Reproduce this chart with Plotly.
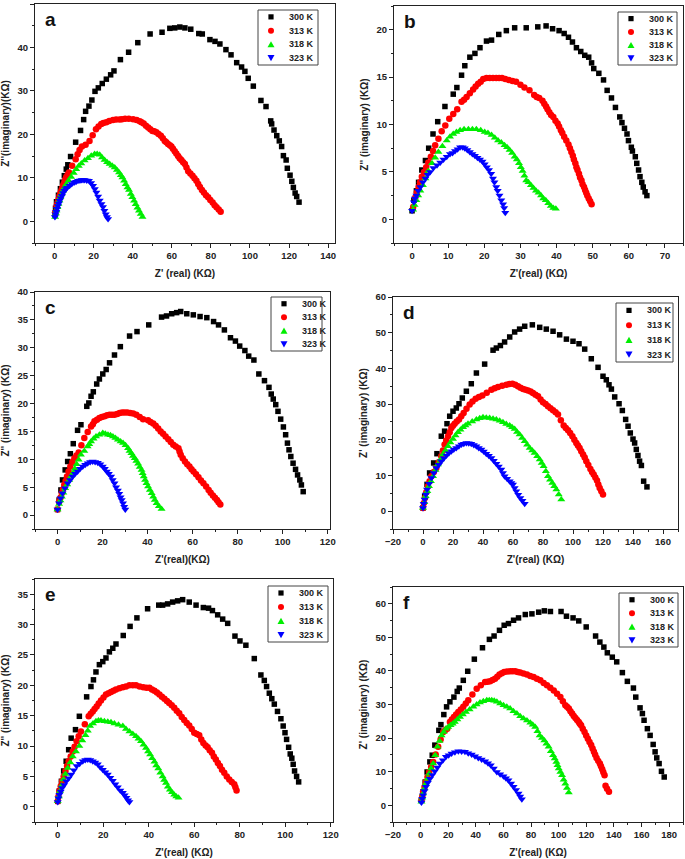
import plotly.graph_objects as go

W, H = 685, 859

# ---------------- data (Z' real, Z'' imaginary) in kOhm ----------------
TEMPS = ["300 K", "313 K", "318 K", "323 K"]

A_300 = [(0.2,1.5),(0.5,3),(1,4.5),(2,6),(3,7.5),(4,9),(5,10.5),(6,12),(6.8,13),(8.2,14.9),(10.8,18.2),
         (13.3,20.9),(14.9,23.4),(15.9,25.3),(17.6,26.5),(19.1,27.9),(20.7,29.9),(22.4,30.7),(24.4,31.7),
         (26.5,32.7),(28.7,33.7),(30.4,34.6),(33.7,37.2),(37.9,38.9),(42.6,41.1),(48.9,43.1),(55,43.5),
         (59,44.4),(61.5,44.5),(64.1,44.7),(66.7,44.5),(69.7,44.2),(73.8,43.2),(75.6,43.1),(79.5,41.8),
         (82.1,41.4),(84.6,40.8),(87.7,39.5),(90.3,38.3),(93.2,36.5),(95.7,35.5),(97.4,34.5),(99.1,32.9),
         (101.7,31.1),(105.6,27.8),(108.2,26.4),(110.6,23.1),(111.1,22.4),(112.3,21),(113.7,19.7),(115,18.5),
         (116.2,17.2),(117.1,15.1),(118.5,14.1),(119.1,12.2),(120.5,10.6),(121.4,9.2),(122.2,7.8),
         (123.1,6.5),(123.9,5.7),(125.1,4.4)]
A_313 = [(0.3,2),(1,3.5),(2,5),(3,6.5),(4,7.8),(5,9),(6,10.2),(7.4,11.2),(10.8,14.3),(12.8,16.4),(15.9,17.6),
         (17.9,18.5),(21.2,21.2),(23.9,22.4),(26.5,22.8),(29.9,23.3),(33.3,23.4),(36.1,23.6),(40.2,23.5),
         (43.6,23),(45.6,22.5),(47.9,21.6),(50.1,20.8),(52.1,20.5),(54.4,19.7),(56.4,18.5),(58.1,17.8),
         (59.8,17.2),(61.5,16.1),(63.2,15),(64.9,14.1),(66.7,13.2),(68.4,11.5),(70.6,10.5),(72.6,9.3),
         (74.4,7.9),(76.4,6.6),(78.6,5.5),(80.9,4.3),(82.9,3.2),(85,2.2),
         (1.5,4.2),(2.5,5.8),(3.5,7.1),(4.5,8.4),(5.5,9.6),(6.7,10.7),(9,12.8),(11.8,15.4),(14,17.2),
         (19.5,19.8),(22.5,21.8),(25,22.6),(28,23.1),(31.5,23.4),(34.5,23.5),(38,23.6),(42,23.3),
         (44.5,22.8),(46.8,22),(49,21.2),(51,20.7),(53.2,20.1),(55.4,19.1),(57.2,18.2),(59,17.5),(60.6,16.7),
         (62.3,15.6),(64,14.5),(65.8,13.6),(67.5,12.4),(69.5,11),(71.6,9.9),(73.5,8.6),(75.4,7.2),(77.5,6),
         (79.7,4.9),(81.9,3.7),(84,2.7)]
A_318 = [(0.3,1),(0.7,1.8),(1,2.5),(1.5,3.2),(2,4),(2.5,4.8),(3,5.5),(3.6,6.2),(4.3,7),(5.1,7.8),(6,8.5),
         (7.2,9.4),(8.5,10.2),(9.8,11.1),(11.1,12),(12.4,12.7),(13.7,13.3),(15.4,14),(17.1,14.5),(18.8,15.1),
         (20.5,15.5),(21.8,15.5),(23.1,15.3),(24.3,14.7),(25.6,14.1),(26.9,13.6),(28.2,13.2),(29.5,12.8),
         (30.8,12.4),(31.9,11.8),(33,11.2),(33.9,10.6),(34.7,10.1),(35.6,9.3),(36.4,8.5),(37.3,7.8),
         (38.1,7.2),(39,6.3),(39.8,5.5),(40.7,4.7),(41.5,3.9),(42.4,3.1),(43.2,2.4),(44.1,1.7),(45,1)]
A_323 = [(0.2,1),(0.5,1.6),(0.9,2.2),(1.3,2.9),(1.7,3.5),(2.2,4.1),(2.6,4.7),(3.2,5.3),(3.8,5.9),(4.4,6.5),
         (5.1,7),(5.8,7.4),(6.4,7.7),(7.7,8.2),(8.8,8.6),(10,8.9),(11,9.1),(12,9.3),(13,9.4),(13.8,9.5),
         (14.6,9.5),(15.4,9.5),(16.5,9.4),(17.6,9.3),(18.7,8.8),(19.7,8.2),(20.6,7.4),(21.4,6.6),(22.3,5.7),
         (23.1,4.8),(24,4),(24.8,3.3),(25.5,2.4),(26.2,1.6),(26.8,1),(27.4,0.5)]

B_300 = [(0,0.9),(0.5,2),(1.2,3),(1.8,3.9),(2.7,5.2),(3.7,6.2),(4.6,7.5),(5.8,9),(7.1,10.3),(9.1,11.9),
         (11.4,13.2),(12.4,13.9),(13.7,15.2),(14.6,16.2),(16,17.1),(17.4,17.5),(18.8,18.1),(20.6,18.8),
         (22,18.9),(24,19.5),(26.1,19.9),(28.4,20.2),(31.6,20.2),(34.8,20.3),(37.1,20.4),(38.9,20.1),
         (40.7,19.9),(42.1,19.6),(43.3,19.2),(44.4,18.7),(45.5,18.1),(46.7,17.7),(47.8,17.3),(48.9,17.1),
         (49.7,16.5),(50.3,15.9),(51.7,15.4),(53,14.7),(54,13.6),(55.2,12.8),(56.3,11.8),(57.5,10.8),
         (58.1,10.2),(58.8,9.6),(59.5,9),(59.9,8.3),(60.7,7.6),(61,7.2),(61.8,6.6),(62.2,5.9),(62.7,5.2),
         (63.1,4.5),(63.6,3.9),(64,3.4),(64.5,2.9),(65,2.5)]
B_313 = [(0.3,1.3),(0.9,2.3),(1.8,3.4),(2.7,4.5),(3.9,5.5),(5.2,6.6),(6.4,7.8),(8.2,9.3),(10.3,10.6),
         (12.5,11.6),(13.7,12.4),(15.1,12.9),(16.9,13.7),(18.3,14.3),(19.7,14.8),(21.5,14.9),(23.3,14.9),
         (24.9,14.9),(26.8,14.7),(28.8,14.5),(31.1,13.9),(32.5,13.6),(33.8,13.1),(35.2,12.8),(36.1,12.5),
         (37.1,11.9),(38,11.3),(39.1,10.8),(40.3,10.1),(41.2,9.4),(42.1,8.7),(43.3,7.9),(44.1,7.1),
         (44.8,6.3),(45.5,5.5),(46.2,4.8),(46.9,4.1),(47.6,3.4),(48.2,2.8),(48.9,2.2),(49.7,1.6),
         (1.3,2.8),(2.2,3.9),(3.3,5),(4.5,6),(5.8,7.2),(7.3,8.5),(9.2,9.9),(11.4,11.1),(14.4,12.6),(16,13.3),
         (17.6,14),(19,14.5),(20.6,14.9),(22.4,14.9),(24.1,14.9),(25.8,14.8),(27.8,14.6),(30,14.2),(34.5,12.9),
         (36.6,12.2),(37.5,11.6),(38.5,11),(39.7,10.4),(40.7,9.8),(41.6,9.1),(42.7,8.3),(43.7,7.5),
         (44.5,6.7),(45.2,5.9),(45.8,5.2),(46.5,4.4),(47.2,3.7),(47.9,3.1),(48.5,2.5),(49.3,1.9)]
B_318 = [(0.3,1),(1.2,2),(2.3,3),(3.7,4.3),(5.5,5.9),(7.3,7.1),(9.6,8.3),(11.4,9),(13.3,9.4),(15.6,9.5),
         (17.8,9.5),(20.1,9.2),(22,8.9),(23.8,8.3),(25.6,7.8),(27,7.3),(28.4,6.6),(29.6,5.9),(30.6,5.1),
         (31.6,4.1),(32.9,3.6),(34.3,3),(35.7,2.5),(37,2),(38.4,1.4),(39.8,1.1),
         (0.7,1.5),(1.7,2.5),(3,3.6),(4.5,5.1),(6.4,6.5),(8.4,7.7),(10.5,8.7),(12.3,9.2),(14.4,9.5),(16.7,9.5),
         (19,9.4),(21,9.1),(22.9,8.6),(24.7,8.1),(26.3,7.6),(27.7,7),(29,6.3),(30.1,5.5),(31.1,4.6),(32.2,3.9),
         (33.6,3.3),(35,2.8),(36.3,2.2),(37.7,1.7),(39.1,1.2)]
B_323 = [(0,0.9),(0.5,1.8),(1.2,2.5),(2.3,3.4),(3.7,4.3),(5,5),(6.9,5.7),(8.7,6.3),(10.5,6.9),(11.9,7.2),
         (13.3,7.6),(14.6,7.5),(16,7.1),(17.4,6.7),(18.8,6.3),(20.1,5.8),(21.3,5.2),(22.4,4.3),(23.3,3.4),
         (24.2,2.5),(25.2,1.6),(25.8,0.7),
         (0.8,2.2),(1.7,3),(3,3.9),(4.3,4.7),(5.9,5.4),(7.8,6),(9.6,6.6),(11.2,7),(12.6,7.4),(14,7.6),
         (15.3,7.3),(16.7,6.9),(18.1,6.5),(19.5,6.1),(20.7,5.5),(21.9,4.8),(22.8,3.9),(23.7,3),(24.7,2),(25.5,1.2)]

C_300 = [(0,1),(0.7,2.7),(1.5,4.5),(2.2,6.3),(3.4,8.1),(4.5,9.6),(5.7,11),(7,12.8),(8.9,15.2),(10.4,16.2),
         (13,19.5),(13.9,20.1),(14.9,21.3),(15.9,22.1),(17.4,23.5),(18.6,24.4),(20.1,25.3),(21.6,26.1),
         (23.1,27.3),(25.3,28.7),(27.9,30.2),(32,32.1),(35.3,32.9),(40.5,34.1),(46.2,35.5),(48.4,35.7),
         (50.7,36.1),(52.9,36.3),(54.7,36.5),(57.4,36.1),(60.3,35.9),(63.3,35.6),(66.3,35.4),(69.3,34.7),
         (71.5,34.1),(74.1,33.2),(76.8,31.8),(79,31.2),(80.9,30.3),(83.2,29.5),(84.9,28.5),(87.2,27.8),
         (89.4,25.3),(91.9,24.1),(93.9,22.9),(94.9,21.7),(95.8,20.8),(96.9,19.8),(97.9,18.6),(99.1,17.2),
         (100.3,15.8),(101.3,14.4),(102.1,12.9),(102.8,11.7),(103.6,10.5),(104.6,9.3),(105.7,8.2),
         (106.6,7.2),(107.6,6.3),(108.3,5.4),(109.1,4.2)]
C_313 = [(0,1),(0.7,2.4),(1.9,3.9),(3,5.4),(4.2,6.9),(5.7,8.7),(7.5,10.2),(9.4,11.2),(11.9,13.8),(14.9,15.9),
         (16.4,16.8),(18.6,17.4),(20.9,17.7),(23.1,18),(25.3,18),(27.6,18.3),(29.8,18.4),(32.3,18.3),
         (35,18),(38,17.2),(40.2,17),(42.5,16.4),(44.7,15.5),(46.9,14.6),(49.2,13.6),(51.4,12.6),(53.7,12),
         (54.7,10.8),(56.6,9.6),(58.6,8.7),(60.4,7.8),(62.6,6.8),(64.8,5.7),(67.1,4.5),(69,3.5),(70.8,2.7),
         (72.3,1.9),
         (1.3,3.1),(2.4,4.6),(3.6,6.1),(4.9,7.8),(6.6,9.5),(8.4,10.7),(10.6,12.5),(13.4,14.9),(15.7,16.3),
         (17.5,17.1),(19.7,17.6),(22,17.9),(24.2,18),(26.5,18.1),(28.7,18.4),(31,18.4),(33.6,18.2),(36.5,17.6),
         (41.3,16.7),(43.6,16),(45.8,15),(48,14.1),(50.3,13.1),(52.5,12.3),(54.2,11.4),(55.6,10.2),(57.6,9.1),
         (59.5,8.2),(61.5,7.3),(63.7,6.2),(66,5.1),(68,4),(69.9,3.1),(71.5,2.3)]
C_318 = [(0,1),(0.7,2),(1.9,3.3),(3.4,4.8),(5.2,6.3),(7,7.6),(8.5,9.1),(10.4,10.8),(13.4,12.3),(14.9,13.2),
         (17.1,14.1),(20.1,14.7),(22.4,14.4),(24.6,14.1),(26.8,13.5),(29.1,12.9),(31.3,12),(32.8,11.1),
         (34.3,10.2),(35.8,9.2),(37.3,8.1),(38.3,6.9),(39.5,5.7),(41,4.5),(42.5,3.3),(44,2.1),(46.2,1.1),
         (1.3,2.6),(2.6,4),(4.3,5.5),(6.1,7),(7.7,8.3),(9.4,9.9),(11.9,11.5),(14.1,12.7),(16,13.7),(18.6,14.4),
         (21.2,14.6),(23.5,14.3),(25.7,13.8),(28,13.2),(30.2,12.5),(32,11.5),(33.5,10.6),(35,9.7),(36.5,8.6),
         (37.8,7.5),(38.9,6.3),(40.2,5.1),(41.8,3.9),(43.2,2.7),(45,1.6)]
C_323 = [(0,1),(0.7,2.1),(2.2,3.9),(4.5,5.7),(6.7,6.9),(8.9,7.8),(11.2,8.7),(13.4,9.3),(15.6,9.6),
         (17.9,9.4),(20.1,8.7),(21.9,7.8),(23.8,6.9),(25.3,5.7),(26.8,4.4),(28,3.2),(29.1,2.1),(30.1,1),
         (1.4,3),(3.3,4.8),(5.6,6.3),(7.8,7.4),(10,8.3),(12.3,9),(14.5,9.5),(16.7,9.5),(19,9.1),(21,8.3),
         (22.8,7.4),(24.5,6.3),(26,5),(27.4,3.8),(28.5,2.7),(29.6,1.5)]

D_300 = [(0,0.9),(1.1,4.2),(2.7,7.5),(4.4,10.7),(7.1,13.5),(9.3,16.1),(12.2,21),(14.4,22.4),(16,24.5),
         (17.8,26.6),(20,28),(22.2,28.9),(24,30.1),(26.2,31.7),(28.9,33.6),(32.2,35.7),(35.6,38.7),
         (41.1,41.2),(46.7,45.1),(48.9,45.7),(51.6,46.4),(54.4,47.4),(57.8,48.8),(61.1,50.2),(64.4,51),
         (67.8,51.8),(72.9,52.2),(77.8,51.5),(82.2,51),(86.7,50.4),(91.1,49.4),(95.6,48.2),(100,47.6),
         (104,46.9),(107.8,45.4),(112.2,42.7),(116.7,40.3),(120,37.8),(122.2,36.8),(124,35.4),(125.6,34.2),
         (127.8,32),(130.7,30.1),(132.9,28.2),(135.1,25.7),(136.7,23.8),(138.2,21.9),(140,20.2),(141.1,19.1),
         (142.2,17.3),(143.3,15.6),(144.4,14),(145.6,12.8),(147.1,8.4),(149.3,6.8)]
D_313 = [(0,0.9),(1.3,3.7),(3.3,7),(5.6,9.8),(8.9,12.1),(12.2,15.4),(14.4,18.7),(16.7,21),(18.9,23.3),
         (21.1,24.5),(24,25.7),(27.1,27.5),(31.1,29.9),(35.1,31.5),(39.6,32.4),(45.6,34),(50,34.8),
         (55.6,35.4),(59.6,35.7),(63.3,35),(66.7,34.2),(70,33.8),(73.3,33.1),(76.7,32.2),(80,30.5),
         (83.3,29.4),(86.7,28.3),(90,27.1),(93.8,24),(96.7,22.7),(99.6,21),(102.2,19.1),(104.4,17.7),
         (106.7,15.9),(108.9,14),(111.6,11.8),(113.8,10.3),(116,8.6),(117.8,6.5),(120,4.7),
         (0.6,2.3),(2.2,5.3),(4.4,8.4),(7.2,11),(10.5,13.7),(13.3,17),(15.5,19.8),(17.8,22.1),(20,23.9),
         (22.5,25.1),(25.5,26.6),(29,28.7),(33,30.7),(37.3,32),(42.5,33.2),(47.8,34.4),(52.8,35.1),(57.6,35.6),
         (61.5,35.4),(65,34.6),(68.4,34),(71.7,33.5),(75,32.6),(78.4,31.3),(81.7,30),(85,28.8),(88.4,27.7),
         (91.9,25.5),(95.2,23.3),(98.1,21.9),(100.9,20),(103.3,18.4),(105.5,16.8),(107.8,15),(110.2,12.9),
         (112.7,11),(114.9,9.4),(116.9,7.5),(118.9,5.6)]
D_318 = [(0,0.9),(1.8,4.2),(4,7),(6.7,9.8),(10,13.1),(13.3,15.9),(16.7,18.2),(20,20.2),(23.3,22.1),
         (26.7,23.5),(30,24.5),(35.6,25.7),(40,26.3),(44.4,26.1),(48.9,25.7),(53.3,24.9),(57.8,24),
         (61.1,23),(64.4,21.5),(67.8,19.6),(71.1,17.7),(74.4,16.3),(77.8,14.5),(80.4,12.6),(83.3,9.8),
         (86.2,7.9),(88.9,6.1),(92.2,3.3),
         (0.9,2.5),(2.9,5.6),(5.3,8.4),(8.3,11.5),(11.7,14.5),(15,17),(18.3,19.2),(21.7,21.2),(25,22.8),
         (28.3,24),(32.8,25.1),(37.8,26),(42.2,26.2),(46.7,25.9),(51.1,25.3),(55.5,24.4),(59.4,23.5),
         (62.7,22.2),(66.1,20.5),(69.4,18.6),(72.8,17),(76.1,15.4),(79.1,13.5),(81.9,11.2),(84.7,8.8),
         (87.5,7),(90.5,4.7)]
D_323 = [(0,0.9),(1.1,3.3),(2.7,6.1),(5.6,9.3),(8.9,12.1),(12.2,14),(15.6,15.6),(18.9,16.8),(22.2,17.7),
         (25.6,18.7),(28.9,19.1),(32.2,18.9),(35.6,18.2),(38.9,17.3),(42.2,16.1),(45.6,14.9),(48.9,13.3),
         (52.2,11.7),(54.4,9.8),(57.8,8.4),(60,7.5),(62.2,5.6),(64.9,3.7),(67.8,2.1),
         (0.5,2.1),(1.9,4.7),(4.1,7.7),(7.2,10.7),(10.5,13),(13.9,14.8),(17.2,16.2),(20.5,17.3),(23.9,18.2),
         (27.2,18.9),(30.5,19),(33.9,18.5),(37.2,17.7),(40.5,16.7),(43.9,15.5),(47.2,14.1),(50.5,12.5),
         (53.3,10.7),(56.1,9.1),(58.9,7.9),(61.1,6.5),(63.5,4.6),(66.3,2.9)]

E_300 = [(0,0.9),(0.7,2.6),(1.6,4.2),(2.6,5.9),(3.7,7.5),(4.8,9.4),(5.9,11.3),(7.8,12.7),(9.5,14.9),
         (12.7,18.1),(14.6,19.8),(15.7,20.9),(16.8,22.2),(18.3,23.4),(19.8,23.9),(21.2,24.5),(22.7,25.5),
         (24.2,26.1),(25.6,26.8),(28.8,28.2),(31.8,29.7),(34.8,31.1),(39.5,32.6),(44.4,33.2),(46.1,33.2),
         (48.3,33.4),(50.5,33.7),(52.7,33.9),(54.9,34.1),(57.8,33.7),(60.8,33.2),(64,32.8),(66.3,32.7),
         (68,32.3),(70.3,31.6),(72.5,30.9),(74.7,30.2),(77.9,28.1),(80.1,27.3),(82.7,26.6),(86.4,24.4),
         (89.3,21.7),(90.8,20.8),(91.8,19.8),(93,18.7),(94.1,17.8),(95.2,16.9),(96.6,15.7),(98.1,14.5),
         (99.1,13.3),(99.9,12.2),(100.6,11.1),(101.5,9.8),(102.2,8.7),(102.9,8),(103.5,7),(104.1,5.9),
         (105,5),(105.9,4.1)]
E_313 = [(0,0.9),(0.7,2.6),(1.9,4.2),(3.4,5.9),(4.8,7.5),(6.6,9.1),(8.3,10.8),(10.2,12.4),(13.6,14.9),
         (15.4,15.7),(17.1,16.5),(19,17.5),(21.2,18.5),(23.4,18.9),(25.6,19.3),(28.6,19.7),(31.5,20),
         (34.4,20),(37.6,19.7),(40.3,19.6),(42.5,19.1),(44.7,18.5),(46.9,17.8),(49,17.1),(51.2,16.3),
         (53.4,15.4),(55.6,14.3),(57.8,13.4),(60,12.2),(62.2,11.8),(64,10.5),(65.9,9.8),(67.8,8.9),
         (69.5,7.8),(71.3,6.7),(73.2,5.6),(75.4,4.5),(77.6,3.7),(78.6,2.7),
         (0.3,1.7),(1.3,3.4),(2.6,5),(4.1,6.7),(5.7,8.3),(7.4,9.9),(9.2,11.6),(11.9,13.6),(14.5,15.3),
         (16.2,16.1),(18,17),(20.1,18),(22.3,18.7),(24.5,19.1),(27.1,19.5),(30,19.8),(33,20),(36,19.8),
         (39,19.6),(41.4,19.3),(43.6,18.8),(45.8,18.1),(48,17.4),(50.1,16.7),(52.3,15.8),(54.5,14.8),
         (56.7,13.8),(58.9,12.8),(61.1,12),(63.1,11.1),(65,10.1),(66.8,9.3),(68.6,8.3),(70.4,7.2),(72.2,6.1),
         (74.3,5),(76.5,4.1),(78.1,3.2)]
E_318 = [(0,0.9),(1,2.6),(2.5,4.5),(4.4,6.4),(6.6,8.3),(9.5,10),(12.2,11.8),(14.2,13.3),(16.8,14.1),
         (19,14.2),(22,14),(24.9,13.7),(28.6,13.3),(31.5,12.4),(34.4,11.6),(36.6,10.8),(38.8,9.7),
         (40.6,8.6),(42.5,7.4),(44.2,6.3),(46.1,5),(47.6,3.9),(49.3,2.8),(51.2,2),(53.1,1.5),
         (0.5,1.7),(1.7,3.5),(3.4,5.4),(5.5,7.3),(8,9.1),(10.8,10.9),(13.2,12.5),(15.5,13.7),(17.9,14.2),
         (20.5,14.1),(23.4,13.9),(26.7,13.5),(30,12.8),(33,12),(35.5,11.2),(37.7,10.2),(39.7,9.1),(41.5,8),
         (43.3,6.8),(45.1,5.6),(46.8,4.4),(48.4,3.3),(50.2,2.4),(52.1,1.7)]
E_323 = [(0,0.8),(0.7,2),(1.9,3.1),(3.7,4.2),(5.9,5.3),(8.3,6.7),(11,7.5),(13.2,7.8),(15.4,7.5),(17.6,7),
         (19.8,6.1),(22,5.3),(24.2,4.3),(26.4,3.2),(28.6,2.3),(30.2,1.5),(31.5,0.8),
         (0.3,1.4),(1.3,2.5),(2.8,3.6),(4.8,4.7),(7.1,6),(9.6,7.1),(12.1,7.7),(14.3,7.7),(16.5,7.3),(18.7,6.5),
         (20.9,5.7),(23.1,4.8),(25.3,3.7),(27.5,2.7),(29.4,1.9),(30.9,1.1)]

F_300 = [(0.6,1.5),(1.8,4),(3.3,6.9),(4.7,9.9),(6.7,12.9),(8.4,14.9),(10.3,17.9),(13.2,22.3),(14.7,24),
         (16.8,27),(18.8,29.3),(21.2,30.8),(24.1,32.2),(26.5,33.9),(28,34.9),(30.9,37.2),(34.1,39.9),
         (38.9,43.5),(44.8,46.9),(49.8,49.4),(53.2,50.4),(57.1,52.1),(60.5,53.6),(63.6,54.1),(67.3,55.1),
         (70.9,55.8),(75.8,56.8),(80.6,57),(85.5,57.5),(89.6,57.9),(94,57.7),(101.7,57.7),(105.6,56.3),
         (110.4,55.8),(114.5,54.9),(119.9,53.1),(126.7,50.4),(129.8,48.6),(132.7,47.1),(135.2,45.4),
         (138.8,44.1),(142,42.7),(146.1,39.5),(149.7,36.9),(154.1,34.9),(155.8,32.2),(158.9,29),(160.6,27.3),
         (161.8,25.3),(164.2,22.8),(166.2,20.8),(168.4,18.1),(169.8,15.9),(171,14.1),(172.7,12.4),
         (174.4,10.1),(176.4,8.4)]
F_313 = [(0.6,1.5),(1.8,4),(3.8,6.9),(6.2,9.9),(9.1,12.9),(12.7,17.4),(16.4,21.8),(19.3,22.8),(21.2,24.8),
         (24.1,26.3),(27.3,27.8),(30.9,29.3),(34.5,31.3),(40.6,34.7),(46.7,36.7),(50.3,36.9),(53.9,37.7),
         (57.1,38.9),(60.5,39.7),(64.8,39.9),(68.5,39.9),(72.1,39.5),(77,38.9),(81.8,38.2),(86.7,37.2),
         (91.5,35.7),(96.4,34.2),(101.2,32.2),(104.8,29.8),(107.3,28.8),(109.7,27.3),(112.1,26),(114.5,24.8),
         (116.2,23.8),(118.7,21.8),(121.1,19.8),(123.5,17.9),(125.5,15.9),(127.4,14.1),(129.8,12.4),
         (131.5,10.7),(133.2,8.9),(133.9,5.8),(136.4,4),
         (1.2,2.7),(2.8,5.4),(5,8.4),(7.6,11.4),(10.9,15.1),(14.5,19.6),(17.8,22.3),(22.6,25.5),(25.7,27),
         (29.1,28.5),(32.7,30.3),(37.5,33),(43.6,35.7),(48.5,36.8),(52.1,37.3),(55.5,38.3),(58.8,39.3),
         (62.6,39.8),(66.6,39.9),(70.3,39.7),(74.5,39.2),(79.4,38.5),(84.2,37.7),(89.1,36.4),(93.9,35),
         (98.8,33.2),(103,31),(106,29.3),(108.5,28),(110.9,26.6),(113.3,25.4),(115.3,24.3),(117.4,22.8),
         (119.9,20.8),(122.3,18.8),(124.5,16.9),(126.4,15),(128.6,13.2),(130.6,11.6),(132.3,9.8),(135,4.9)]
F_318 = [(0.6,1),(1.8,3.5),(3.8,6.4),(6.2,9.4),(9.1,12.4),(12.2,17.4),(15.2,20.8),(18.3,22.8),(21.7,23.8),
         (24.8,24.8),(28.5,26.3),(32.8,27.8),(38.2,29.3),(43,30.6),(47.9,31.3),(51.5,31.3),(55.2,30.8),
         (60,29.8),(64.8,28.8),(69.7,27.3),(74.5,25.8),(79.4,24.6),(83,23.3),(86.2,20.8),(89.6,19.3),
         (92.7,17.4),(95.9,14.9),(98.3,12.9),(100,10.9),(102.4,8.9),(104.8,6.4),(107.3,3.8),
         (1.2,2.2),(2.8,5),(5,7.9),(7.6,10.9),(10.6,14.9),(13.7,19.1),(16.7,21.8),(20,23.3),(23.2,24.3),
         (26.6,25.5),(30.6,27),(35.5,28.5),(40.6,30),(45.4,31),(49.7,31.3),(53.3,31.1),(57.6,30.3),(62.4,29.3),
         (67.2,28),(72.1,26.5),(77,25.2),(81.2,24),(84.6,22),(87.9,20),(91.1,18.3),(94.3,16.1),(97.1,13.9),
         (99.1,11.9),(101.2,9.9),(103.6,7.6),(106,5.1)]
F_323 = [(0.6,0.8),(1.8,3),(3.8,5.5),(6.7,7.9),(10.3,10.1),(13.9,12.4),(18.3,14.4),(22.4,15.4),(27.3,16.1),
         (32.1,15.9),(37,15.1),(41.8,14.1),(46.7,13.1),(50.8,11.9),(55.2,9.9),(60,8.6),(63.6,7.4),(67.3,5.5),
         (70.9,3.5),(73.3,1.8),
         (1.2,1.9),(2.8,4.2),(5.2,6.7),(8.5,9),(12.1,11.2),(16.1,13.4),(20.3,14.9),(24.8,15.8),(29.7,16),
         (34.5,15.5),(39.4,14.6),(44.2,13.6),(48.8,12.5),(53,10.9),(57.6,9.2),(61.8,8),(65.5,6.5),(69.1,4.5),
         (72.1,2.6)]

PANELS = [
    dict(letter="a", series=[A_300, A_313, A_318, A_323], xrange=[-10, 143.5], xdt=20, yrange=[-5, 50], ydt=10,
         xtitle="Z' (real) (K\u03a9)", ytitle="Z''(imaginary)(K\u03a9)", box=(35, 335, 4, 243), leg=(258, 318, 10, 65)),
    dict(letter="b", series=[B_300, B_313, B_318, B_323], xrange=[-5, 75], xdt=10, yrange=[-2.5, 22.5], ydt=5,
         xtitle="Z'(real) (K\u03a9)", ytitle="Z'' (imaginary) (K\u03a9)", box=(394, 683, 6, 243), leg=(618, 677, 12, 65)),
    dict(letter="c", series=[C_300, C_313, C_318, C_323], xrange=[-10, 121], xdt=20, yrange=[-2.5, 40], ydt=5,
         xtitle="Z'(real)(K\u03a9)", ytitle="Z'' (imaginary) (K\u03a9)", box=(35, 330, 292, 529), leg=(271, 322, 297, 351)),
    dict(letter="d", series=[D_300, D_313, D_318, D_323], xrange=[-20, 170], xdt=20, yrange=[-5, 60], ydt=10,
         xtitle="Z'(real) (K\u03a9)", ytitle="Z' (imaginary) (K\u03a9)", box=(393, 678, 297, 529), leg=(616, 673, 303, 362)),
    dict(letter="e", series=[E_300, E_313, E_318, E_323], xrange=[-10, 121], xdt=20, yrange=[-2.5, 37.5], ydt=5,
         xtitle="Z'(real) (K\u03a9)", ytitle="Z'' (imaginary) (K\u03a9)", box=(35, 333, 579, 822), leg=(268, 328, 586, 642)),
    dict(letter="f", series=[F_300, F_313, F_318, F_323], xrange=[-20, 190], xdt=20, yrange=[-5, 65], ydt=10,
         xtitle="Z'(real) (K\u03a9)", ytitle="Z' (imaginary) (K\u03a9)", box=(393, 683, 587, 822), leg=(619, 678, 593, 647)),
]

COLORS = ["#000000", "#ff0000", "#00ee00", "#0000ff"]
SYMBOLS = ["square", "circle", "triangle-up", "triangle-down"]
SIZES = [5.5, 6.5, 7, 7]
FONT = "Liberation Sans, Arial, sans-serif"


def px(x):
    return x / W


def py(y):
    return 1 - y / H


fig = go.Figure()
layout = dict(width=W, height=H, margin=dict(l=0, r=0, t=0, b=0), showlegend=False,
              paper_bgcolor="white", plot_bgcolor="white")
shapes, annotations = [], []

for i, p in enumerate(PANELS):
    n = "" if i == 0 else str(i + 1)
    xa, ya = "x" + n, "y" + n
    for k, ser in enumerate(p["series"]):
        xs = [v[0] for v in ser]
        ys = [v[1] for v in ser]
        fig.add_trace(go.Scatter(x=xs, y=ys, mode="markers", name=TEMPS[k], xaxis=xa, yaxis=ya,
                                 marker=dict(symbol=SYMBOLS[k], size=SIZES[k], color=COLORS[k], line=dict(width=0))))
    x0, x1, y0, y1 = p["box"]
    common = dict(showline=True, linecolor="#222", linewidth=1, mirror=True, showgrid=False, zeroline=False,
                  ticks="outside", ticklen=4, tickwidth=1, tickcolor="#222",
                  tickfont=dict(family=FONT, size=9.5, color="#222", weight="bold"),
                  minor=dict(ticks="outside", ticklen=2, tickwidth=1, tickcolor="#222"),
                  automargin=False)
    layout["xaxis" + n] = dict(common, domain=[px(x0), px(x1)], range=p["xrange"], dtick=p["xdt"], tick0=0,
                               anchor=ya, title=dict(text=p["xtitle"], standoff=9,
                                                     font=dict(family=FONT, size=10, color="#222", weight="bold")))
    layout["xaxis" + n]["minor"] = dict(common["minor"], dtick=p["xdt"] / 2)
    layout["yaxis" + n] = dict(common, domain=[py(y1), py(y0)], range=p["yrange"], dtick=p["ydt"], tick0=0,
                               anchor=xa, title=dict(text=p["ytitle"], standoff=6,
                                                     font=dict(family=FONT, size=10, color="#222", weight="bold")))
    layout["yaxis" + n]["minor"] = dict(common["minor"], dtick=p["ydt"] / 2)

    # panel letter
    annotations.append(dict(text="<b>%s</b>" % p["letter"], xref="paper", yref="paper",
                            x=px(x0 + 8), y=py(y0 + 3), xanchor="left", yanchor="top", showarrow=False,
                            font=dict(family=FONT, size=19, color="#111")))
    # legend box (one per panel)
    lx0, lx1, ly0, ly1 = p["leg"]
    shapes.append(dict(type="rect", xref="paper", yref="paper", x0=px(lx0), x1=px(lx1), y0=py(ly1), y1=py(ly0),
                       line=dict(color="#444", width=1), fillcolor="white", layer="above"))
    step = (ly1 - ly0) / 4.0
    for k in range(4):
        cy = ly0 + step * (k + 0.5)
        mx = lx0 + 13
        r = 2.6 if k == 0 else 3.0
        if k == 0:
            shapes.append(dict(type="rect", xref="paper", yref="paper", x0=px(mx - r), x1=px(mx + r),
                               y0=py(cy + r), y1=py(cy - r), line=dict(width=0), fillcolor=COLORS[k], layer="above"))
        elif k == 1:
            shapes.append(dict(type="circle", xref="paper", yref="paper", x0=px(mx - r), x1=px(mx + r),
                               y0=py(cy + r), y1=py(cy - r), line=dict(width=0), fillcolor=COLORS[k], layer="above"))
        else:
            if k == 2:
                pts = [(mx - 3.5, cy + 3), (mx + 3.5, cy + 3), (mx, cy - 3.2)]
            else:
                pts = [(mx - 3.5, cy - 3), (mx + 3.5, cy - 3), (mx, cy + 3.2)]
            path = "M %f %f L %f %f L %f %f Z" % tuple(v for q in pts for v in (px(q[0]), py(q[1])))
            shapes.append(dict(type="path", xref="paper", yref="paper", path=path, line=dict(width=0),
                               fillcolor=COLORS[k], layer="above"))
        annotations.append(dict(text="<b>%s</b>" % TEMPS[k], xref="paper", yref="paper", x=px(lx0 + 29), y=py(cy),
                                xanchor="left", yanchor="middle", showarrow=False,
                                font=dict(family=FONT, size=9, color="#222")))

layout["shapes"] = shapes
layout["annotations"] = annotations
fig.update_layout(**layout)
fig.write_html("out.html", config={"displayModeBar": False},
               post_script="document.body.style.margin='0';document.body.style.overflow='hidden';")
